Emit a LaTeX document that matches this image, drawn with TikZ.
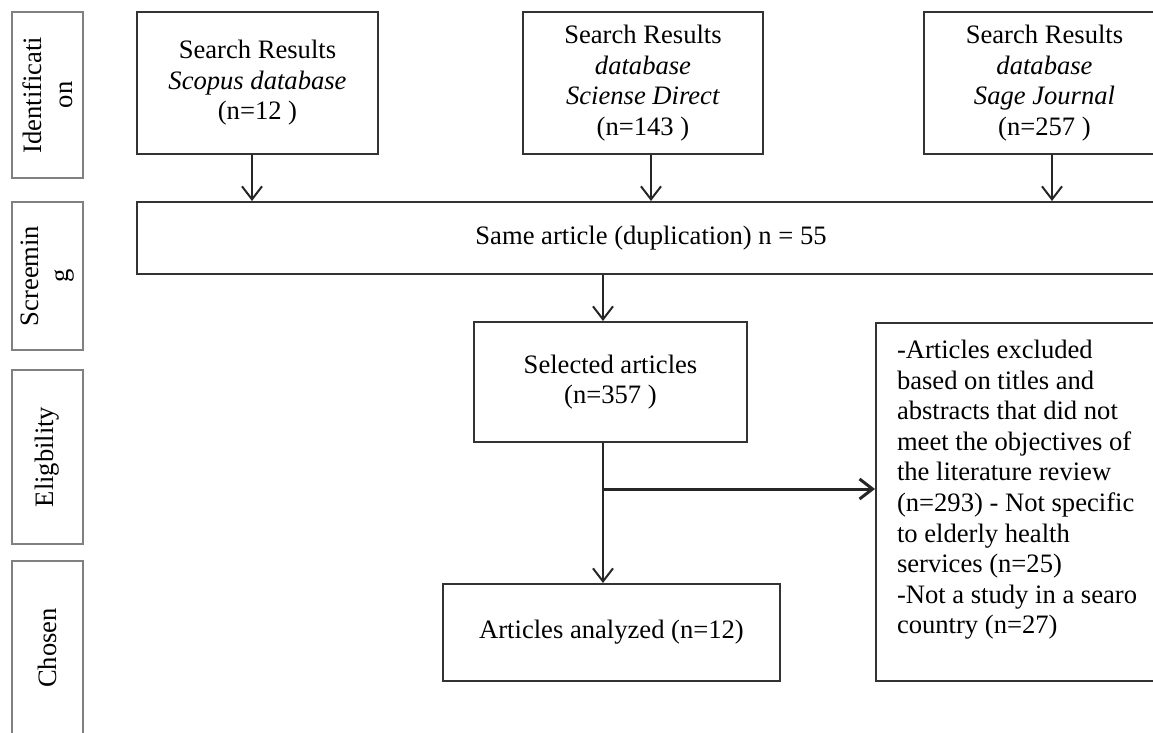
\documentclass[tikz,border=0pt]{standalone}
\usepackage{fontspec}
\setmainfont{Liberation Serif}
\usetikzlibrary{arrows.meta}

\tikzset{
	box/.style={draw=black!80, line width=1pt, align=center, inner sep=0pt},
	stage/.style={draw=black!50, line width=1pt, align=center, inner sep=0pt, rotate=90},
	arr/.style={-{Straight Barb[length=6.5pt,width=10pt]}, line width=1pt, black!85}
}

\begin{document}
\begin{tikzpicture}[x=0.5pt, y=-0.5pt, font=\fontsize{13.3}{15.3}\selectfont]
			%%%%% START %%%%%
			\useasboundingbox (0, 0) rectangle (1153, 733);
			
			% stages on the left
			\node[stage, minimum width=83pt, minimum height=35.5pt] (ident) at (47.5, 95) {Identificati\\on};
			\node[stage, minimum width=74pt, minimum height=35.5pt] (screen) at (47.5, 276) {Screemin\\g};
			\node[stage, minimum width=87pt, minimum height=35.5pt] (elig) at (47.5, 457) {Eligbility};
			\node[stage, minimum width=87pt, minimum height=35.5pt] (chosen) at (47.5, 648) {Chosen};
			
			% search results
			\node[box, minimum width=120.5pt, minimum height=71pt] (scopus) at (257.5, 83) {Search Results\\\textit{Scopus database}\\(n=12 )};
			\node[box, minimum width=120pt, minimum height=71pt] (direct) at (643, 83) {Search Results\\\textit{database}\\\textit{Sciense Direct}\\(n=143 )};
			\node[box, minimum width=120.5pt, minimum height=71pt] (sage) at (1044.5, 83) {Search Results\\\textit{database}\\\textit{Sage Journal}\\(n=257 )};
			
			\node[box, minimum width=514pt, minimum height=36pt] (dupl) at (651, 238) {Same article (duplication) n = 55};
			
			\node[box, minimum width=136.5pt, minimum height=60pt] (selected) at (610.5, 382) {Selected articles\\(n=357 )};
			\node[box, minimum width=168.5pt, minimum height=48.5pt] (analyzed) at (611.5, 632.5) {Articles analyzed (n=12)};
			
			\node[box, inner xsep=10.5pt, anchor=north west] (excluded) at (875, 322) {\parbox[c][179pt][t]{124.5pt}{\vspace*{8.5pt}\raggedright
				-Articles excluded\\based on titles and\\abstracts that did not\\meet the objectives of\\the literature review\\(n=293) - Not specific\\to elderly health\\services (n=25)\\-Not a study in a searo\\country (n=27)}};
			
			% connectors
			\draw[arr] ([xshift=-2.75pt]scopus.south) -- ([xshift=-2.75pt]scopus.south |- dupl.north);
			\draw[arr] ([xshift=4pt]direct.south) -- ([xshift=4pt]direct.south |- dupl.north);
			\draw[arr] ([xshift=3.75pt]sage.south) -- ([xshift=3.75pt]sage.south |- dupl.north);
			\draw[arr] ([xshift=-3.75pt]selected.north |- dupl.south) -- ([xshift=-3.75pt]selected.north);
			\draw[arr] ([xshift=-3.75pt]selected.south) -- ([xshift=-3.75pt]selected.south |- analyzed.north);
			
			\coordinate (split) at (603, 489);
			\draw[arr, line width=1.5pt] (split) -- (split -| excluded.west);
			%%%%% END %%%%%
\end{tikzpicture}
\end{document}
